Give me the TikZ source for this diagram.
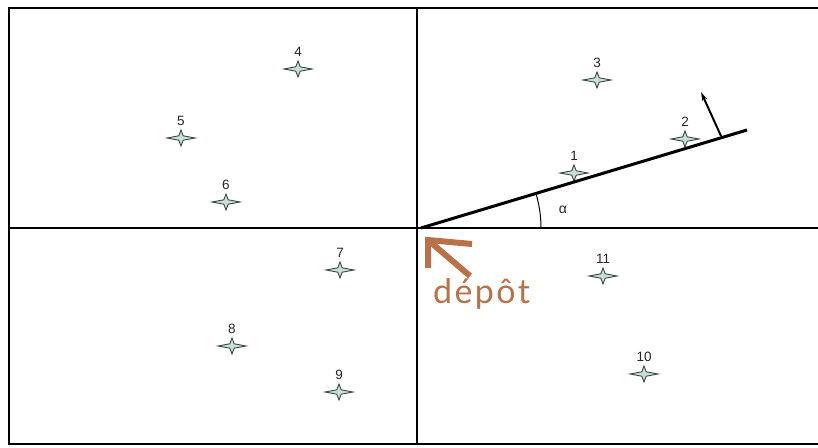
\documentclass[tikz,border=0pt]{standalone}
\usepackage{fontspec}
\setmainfont{Liberation Sans}
\newfontfamily\depfont[LetterSpace=7]{Lato}
\usetikzlibrary{arrows.meta}
\definecolor{depbrown}{RGB}{184,114,74}
\definecolor{starfill}{RGB}{200,224,216}
\definecolor{stardraw}{RGB}{60,70,68}
\tikzset{
  frame/.style={line width=2.4pt, black},
  divider/.style={line width=1.5pt, black},
  lbl/.style={font=\fontsize{13.5}{13.5}\selectfont, inner sep=0pt, text=black!85},
  sparkpt/.style={inner sep=0pt, minimum size=0pt},
  spark/.pic={
    \filldraw[stardraw, fill=starfill, line width=0.9pt, line join=miter]
      (-14,0) -- (-2.2,-2.2) -- (0,-8) -- (2.2,-2.2) -- (14,0) -- (2.2,2.2) -- (0,8) -- (-2.2,2.2) -- cycle;
  }
}
\begin{document}
\begin{tikzpicture}[x=1pt,y=-1pt]
\useasboundingbox (0,0) rectangle (818,447);
\fill[white] (0,0) rectangle (818,447);
% frame
\coordinate (TR) at (818,8);
\coordinate (TL) at (9,8);
\coordinate (BL) at (9,444);
\coordinate (BR) at (818,444);
\draw[frame] (TR) -- (TL) -- (BL) -- (BR);
\coordinate (VT) at (417,8);
\coordinate (VB) at (417,444);
\coordinate (HL) at (9,228);
\coordinate (HR) at (818,228);
\draw[divider] (VT) -- (VB);
\draw[divider] (HL) -- (HR);
% points
\foreach \n/\x/\y in {1/574/173, 2/685/139, 3/597/80, 4/298/69, 5/181/138, 6/226/202, 7/340/270, 8/232/346, 9/339/392, 10/644/374, 11/603/276} {
  \node[sparkpt] (p\n) at (\x,\y) {};
  \pic at (p\n) {spark};
  \node[lbl] (l\n) at (\x,\y-17) {\n};
}
% line
\coordinate (O) at (421,228);
\coordinate (E) at (747,130);
\draw[line width=3pt] (O) -- (E);
\coordinate (NB) at (721,136);
\coordinate (NT) at (701,92);
\draw[line width=2pt, -{Stealth[length=9pt,width=5pt]}] (NB) -- (NT);
% angle
\draw[line width=1pt] (541,228) arc[start angle=0, end angle=-16.7, radius=120];
\node[lbl, font=\fontsize{14}{14}\selectfont] (alpha) at (563,210) {α};
% depot arrow
\coordinate (AC) at (428,240);
\coordinate (AH) at (472,244);
\coordinate (AV) at (428,268);
\coordinate (AS) at (470,276);
\draw[depbrown, line width=6pt, line cap=butt, line join=miter] (AH) -- (AC) -- (AV);
\draw[depbrown, line width=6pt] (AC) -- (AS);
\node[depbrown, inner sep=0pt, anchor=base west, font=\depfont\fontsize{34}{34}\selectfont] (dep) at (433,303) {dépôt};
\end{tikzpicture}
\end{document}
